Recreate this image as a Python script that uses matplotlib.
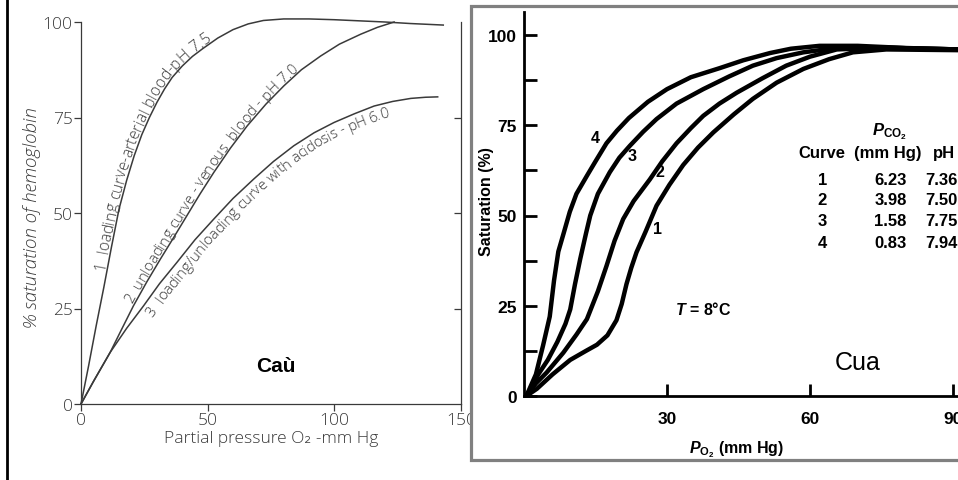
import numpy as np
import matplotlib.pyplot as plt
from matplotlib.patches import Rectangle
from matplotlib.lines import Line2D
from matplotlib.font_manager import FontProperties

plt.rcParams["mathtext.fontset"] = "custom"
plt.rcParams["mathtext.rm"] = "Liberation Sans:bold"
plt.rcParams["mathtext.bf"] = "Liberation Sans:bold"
plt.rcParams["mathtext.it"] = "Liberation Sans:italic:bold"

# left panel (Caù): PO2 in mm Hg vs % saturation of hemoglobin
cau_x1 = [0, 3, 6, 9, 12, 15, 18, 21, 24, 27, 30, 33, 36, 40, 44, 48, 54, 60, 66, 72, 80, 90, 100, 110, 120, 130, 143]
cau_y1 = [0, 10, 20.5, 30.5, 41, 51, 58.5, 65, 70.5, 75, 79, 82.5, 85.5, 88.5, 91, 93, 95.8, 98, 99.5, 100.4, 100.8, 100.8, 100.6, 100.3, 100, 99.6, 99.2]
cau_x2 = [0, 5, 11.5, 16, 20.7, 26, 31.3, 36.5, 41.8, 47, 52.4, 59, 65.6, 73, 80.1, 87, 94.6, 102, 110.4, 117, 123.6]
cau_y2 = [0, 6, 13.5, 19.5, 25.7, 32, 37.9, 43.5, 49.3, 55, 60.6, 67, 72.8, 78.5, 83.3, 87.5, 91.1, 94.2, 96.8, 98.6, 100]
cau_x3 = [0, 5, 11.5, 18, 24.7, 31, 37.9, 45, 52.4, 60, 68.2, 76, 84, 92, 99.9, 108, 115.7, 123, 130.2, 136, 140.8]
cau_y3 = [0, 6, 13.5, 19.8, 25.7, 31.5, 37.1, 43, 48.4, 53.8, 58.9, 63.5, 67.6, 71, 73.7, 76, 78, 79.2, 80, 80.3, 80.4]
cau_labels = ["1  loading curve-arterial blood-pH 7.5",
              "2  unloading curve - venous  blood - pH 7.0",
              "3  loading/unloading curve with acidosis - pH 6.0"]
cau_label_start = [35, 26, 25]      # saturation where each label starts on its curve
cau_label_side = [1, 1, -1]         # 1: text sits on the curve, -1: text hangs below it
cau_label_size = [11.2, 10.7, 10.8]

# right panel (Cua): PO2 in mm Hg vs saturation %
cua_x4 = [0.5, 2.5, 4, 5.4, 6.3, 7.2, 8.3, 9.6, 11, 13.2, 15, 17.3, 19.5, 22, 26, 30, 35, 41, 46, 51.6, 56, 62, 70, 80, 91]
cua_y4 = [0, 6, 14, 22, 32, 40, 45, 51, 56, 61, 65, 70, 73.5, 77, 81.5, 85, 88.3, 90.8, 93, 95, 96.2, 97, 97, 96.4, 96]
cua_x3 = [0.5, 3, 5, 7, 8.7, 9.7, 10.7, 11.8, 13, 13.9, 15.5, 18, 20, 22.2, 25, 27.8, 32, 37.6, 43, 48, 53, 58.6, 66, 75, 91]
cua_y3 = [0, 6, 10, 15, 20, 24, 31, 38, 45, 50, 56, 62, 66, 69.3, 73.2, 76.7, 81, 85, 88.5, 91.5, 93.6, 95.2, 96.5, 96.5, 96]
cua_x2 = [0.5, 2.5, 4.75, 8.25, 11, 13.2, 15.5, 17.3, 19, 20.8, 23, 26.4, 29, 32, 35, 37.6, 41, 44.6, 50, 55, 60, 65.6, 75, 91]
cua_y2 = [0, 3.5, 6.5, 12, 17, 21.3, 29, 36, 43, 49, 54, 60, 65, 70, 74.2, 77.6, 81, 84, 88, 91.5, 94, 96, 96.5, 96]
cua_x1 = [0.5, 2.7, 6, 9.7, 13, 15.3, 17.5, 19.4, 20.5, 21.5, 22.5, 23.6, 25.5, 27.8, 30.5, 33.4, 36.5, 39.7, 44, 48, 53, 58.6, 64, 69, 76, 91]
cua_y1 = [0, 2, 6, 10, 12.5, 14.2, 16.8, 21, 25.5, 31, 35.5, 39.8, 45.5, 52.7, 58.5, 64, 68.8, 73, 78, 82.3, 86.8, 90.6, 93.3, 95.2, 96, 95.8]
cua_curve_labels = ["4", "3", "2", "1"]
cua_curve_label_pos = [(14.9, 71.7), (22.6, 66.5), (28.5, 62.3), (28.1, 46.3)]

table_curve = ["1", "2", "3", "4"]
table_pco2 = ["6.23", "3.98", "1.58", "0.83"]
table_ph = ["7.36", "7.50", "7.75", "7.94"]

W, H = 958, 481
fig = plt.figure(figsize=(W / 100, H / 100), dpi=100)
fig.patch.set_facecolor("white")

thin = ["Open Sans", "DejaVu Sans"]
gray = "#3a3a3a"


def text_along_curve(ax, xs, ys, text, y_start, side, size):
    """Write text letter by letter following a curve (display pixels)."""
    renderer = fig.canvas.get_renderer()
    fp = FontProperties(family=thin, weight="light", size=size)
    pts = ax.transData.transform(np.column_stack([xs, ys]))
    arc = np.concatenate([[0], np.cumsum(np.hypot(*np.diff(pts, axis=0).T))])
    s0 = np.interp(y_start, ys, arc)
    ref_w = renderer.get_text_width_height_descent("|", fp, ismath=False)[0]

    def adv(s):
        return renderer.get_text_width_height_descent(s + "|", fp, ismath=False)[0] - ref_w

    def at(s):
        return np.array([np.interp(s, arc, pts[:, 0]), np.interp(s, arc, pts[:, 1])])

    px_size = size * 100 / 72
    offset = 2.5 if side > 0 else -(0.74 * px_size + 2.5)
    for i, ch in enumerate(text):
        if ch == " ":
            continue
        a, b = adv(text[:i]), adv(text[:i + 1])
        sc = s0 + (a + b) / 2
        d = at(sc + 9) - at(sc - 9)
        d = d / np.hypot(*d)
        normal = np.array([-d[1], d[0]])
        q = ax.transData.inverted().transform(at(sc) + normal * offset)
        ax.text(q[0], q[1], ch, rotation=np.degrees(np.arctan2(d[1], d[0])),
                rotation_mode="anchor", ha="center", va="baseline",
                fontproperties=fp, color=gray, clip_on=False)


# ---------- left panel ----------
ax1 = fig.add_axes([81 / W, (H - 405) / H, 380 / W, 382 / H])
ax1.set_xlim(0, 150)
ax1.set_ylim(0, 100)
cau_curves = [(cau_x1, cau_y1), (cau_x2, cau_y2), (cau_x3, cau_y3)]
for c in cau_curves:
    ax1.plot(c[0], c[1], color=gray, lw=1.1, clip_on=False)
ax1.spines["top"].set_visible(False)
ax1.spines["right"].set_visible(False)
for s in ["left", "bottom"]:
    ax1.spines[s].set_color(gray)
    ax1.spines[s].set_linewidth(0.9)
ax1.set_xticks([0, 50, 100, 150])
ax1.set_yticks([0, 25, 50, 75, 100])
ax1.tick_params(direction="out", length=5, width=0.9, color=gray, labelcolor=gray,
                labelsize=12.5, pad=1)
for t in ax1.get_xticklabels() + ax1.get_yticklabels():
    t.set_family(thin)
    t.set_fontweight("light")
ax1.set_xlabel("Partial pressure O₂ -mm Hg", family=thin, fontweight="light",
               fontsize=12.5, color=gray, labelpad=1)
ax1.set_ylabel("% saturation of hemoglobin", family=thin, fontweight="light",
               style="italic", fontsize=13.5, color=gray)
ax1.yaxis.set_label_coords(-0.105, 0.49)
sec = ax1.secondary_yaxis("right")
sec.set_yticks([25, 50, 75])
sec.tick_params(direction="in", length=5, width=0.9, color=gray, labelright=False)
sec.spines["right"].set_color(gray)
sec.spines["right"].set_linewidth(0.9)

for c, lab, ys, side, fs in zip(cau_curves, cau_labels, cau_label_start,
                                cau_label_side, cau_label_size):
    text_along_curve(ax1, c[0], c[1], lab, ys, side, fs)
ax1.text(77, 10, "Caù", fontsize=15, fontweight="bold", family="Liberation Sans",
         ha="center", va="center", color="black")

# black border on the far left
fig.add_artist(Line2D([7 / W, 7 / W], [0, 1], transform=fig.transFigure,
                      color="black", lw=2))

# ---------- right panel frame ----------
frame = Rectangle((471 / W, (H - 461) / H), (975 - 471) / W, (461 - 7) / H,
                  transform=fig.transFigure, facecolor="white",
                  edgecolor="#808080", lw=2.3, zorder=1, clip_on=False)
fig.add_artist(frame)

# ---------- right panel ----------
ax2 = fig.add_axes([524 / W, (H - 397) / H, 434 / W, 384 / H])
ax2.set_zorder(2)
ax2.patch.set_alpha(0)
ax2.set_xlim(0, 434 / 4.767)
ax2.set_ylim(0, 384 / 3.61)
for c in [(cua_x4, cua_y4), (cua_x3, cua_y3), (cua_x2, cua_y2), (cua_x1, cua_y1)]:
    ax2.plot(c[0], c[1], color="black", lw=3.2, solid_capstyle="round",
             solid_joinstyle="round")
ax2.spines["top"].set_visible(False)
ax2.spines["right"].set_visible(False)
for s in ["left", "bottom"]:
    ax2.spines[s].set_linewidth(2)
ax2.set_xticks([30, 60, 90])
ax2.set_yticks([0, 25, 50, 75, 100])
ax2.set_yticks([12.5, 37.5, 62.5, 87.5], minor=True)
ax2.tick_params(which="both", direction="in", length=9, width=2, labelsize=12.5, pad=5)
ax2.tick_params(axis="x", pad=11)
for t in ax2.get_xticklabels() + ax2.get_yticklabels():
    t.set_family("Liberation Sans")
    t.set_fontweight("bold")
ax2.set_xlabel(r"$P_{\mathrm{O_2}}$ (mm Hg)", fontsize=11.5, fontweight="bold",
               family="Liberation Sans")
ax2.xaxis.set_label_coords(0.49, -0.11)
ax2.set_ylabel("Saturation (%)", fontsize=11.5, fontweight="bold", family="Liberation Sans")
ax2.yaxis.set_label_coords(-0.07, 0.51)

for lab, pos in zip(cua_curve_labels, cua_curve_label_pos):
    ax2.text(pos[0], pos[1], lab, fontsize=11.5, fontweight="bold",
             family="Liberation Sans", ha="center", va="center")
ax2.text(37.5, 24.1, r"$T$ = 8°C", fontsize=11.5, fontweight="bold",
         family="Liberation Sans", ha="center", va="center")
ax2.text(69.9, 9.4, "Cua", fontsize=18, family="Liberation Sans",
         ha="center", va="center")

# small table of curve conditions
tkw = dict(transform=ax2.transAxes, fontsize=12, fontweight="bold",
           family="Liberation Sans", va="center", clip_on=False)
ax2.text(0.843, 0.69, r"$P_{\mathrm{CO_2}}$", ha="center", **tkw)
ax2.text(0.687, 0.635, "Curve", ha="center", **tkw)
ax2.text(0.838, 0.635, "(mm Hg)", ha="center", **tkw)
ax2.text(0.942, 0.635, "pH", ha="left", **tkw)
row_y = [0.565, 0.513, 0.456, 0.401]
for ry, cn, pc, ph in zip(row_y, table_curve, table_pco2, table_ph):
    ax2.text(0.687, ry, cn, ha="center", **tkw)
    ax2.text(0.882, ry, pc, ha="right", **tkw)
    ax2.text(0.924, ry, ph, ha="left", **tkw)

fig.savefig("out.png", dpi=100, facecolor="white")
